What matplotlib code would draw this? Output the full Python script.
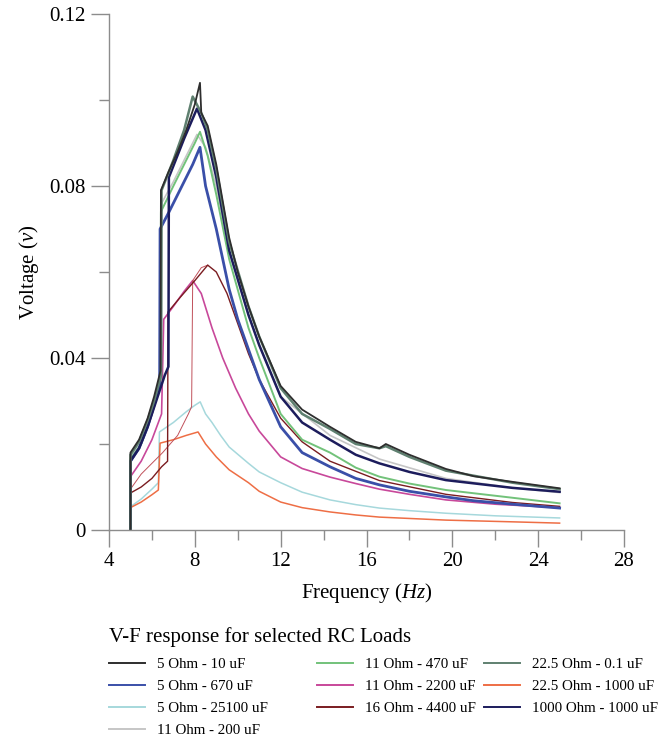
import matplotlib
matplotlib.use("Agg")
import matplotlib.pyplot as plt
from matplotlib.ticker import MultipleLocator

plt.rcParams['font.family'] = ['Liberation Serif', 'DejaVu Serif']
plt.rcParams['mathtext.fontset'] = 'custom'
plt.rcParams['mathtext.rm'] = 'Liberation Serif'
plt.rcParams['mathtext.it'] = 'Liberation Serif:italic'

# values (frequency in Hz, voltage in v)
black_f = [5.0, 5.0, 5.4, 5.8, 6.1, 6.4, 6.42, 6.75, 7.2, 7.6, 8.0, 8.24, 8.3, 8.6, 9.0, 9.6, 10.0, 10.5, 11.0, 12.0, 13.0, 14.3, 15.5, 16.6, 16.9, 18.0, 19.7, 21.0, 22.8, 25.0]
black_v = [0.0, 0.018, 0.021, 0.026, 0.031, 0.037, 0.079, 0.083, 0.088, 0.093, 0.099, 0.104, 0.097, 0.094, 0.085, 0.068, 0.060, 0.052, 0.045, 0.0335, 0.028, 0.024, 0.0205, 0.019, 0.020, 0.0175, 0.0142, 0.0125, 0.0112, 0.0097]

blue_f = [5.0, 5.0, 5.4, 5.8, 6.1, 6.36, 6.38, 6.8, 7.2, 7.6, 7.9, 8.24, 8.5, 9.0, 9.6, 10.0, 10.5, 11.0, 12.0, 13.0, 14.3, 15.5, 16.6, 18.0, 19.7, 21.0, 22.8, 25.0]
blue_v = [0.0, 0.016, 0.019, 0.024, 0.029, 0.034, 0.070, 0.074, 0.078, 0.082, 0.085, 0.089, 0.080, 0.070, 0.056, 0.049, 0.042, 0.035, 0.024, 0.018, 0.0147, 0.012, 0.0105, 0.0090, 0.0077, 0.0068, 0.0060, 0.0051]

cyan_f = [5.0, 5.0, 5.5, 6.0, 6.3, 6.35, 7.0, 7.6, 8.0, 8.25, 8.5, 8.8, 9.2, 9.6, 10.5, 11.0, 12.0, 13.0, 14.3, 15.5, 16.6, 18.0, 19.7, 22.0, 25.0]
cyan_v = [0.0, 0.0054, 0.0072, 0.0095, 0.011, 0.0228, 0.025, 0.0275, 0.029, 0.0298, 0.027, 0.025, 0.022, 0.0193, 0.0155, 0.0135, 0.011, 0.0088, 0.0070, 0.0059, 0.0051, 0.0045, 0.0039, 0.0033, 0.0028]

gray_f = [5.0, 5.0, 5.5, 6.0, 6.42, 6.45, 7.0, 7.5, 8.1, 8.5, 9.0, 9.6, 10.5, 11.0, 12.0, 14.3, 16.6, 19.7, 22.8, 25.0]
gray_v = [0.0, 0.017, 0.021, 0.028, 0.035, 0.076, 0.081, 0.086, 0.092, 0.089, 0.080, 0.065, 0.050, 0.043, 0.031, 0.022, 0.0165, 0.012, 0.0098, 0.0087]

green_f = [5.0, 5.0, 5.5, 6.0, 6.4, 6.42, 7.0, 7.5, 8.0, 8.24, 8.6, 9.0, 9.6, 10.5, 11.0, 12.0, 13.0, 14.3, 15.5, 16.6, 18.0, 19.7, 22.8, 25.0]
green_v = [0.0, 0.0165, 0.020, 0.027, 0.035, 0.074, 0.080, 0.085, 0.090, 0.0926, 0.087, 0.078, 0.063, 0.047, 0.040, 0.027, 0.021, 0.018, 0.0145, 0.0124, 0.0108, 0.0093, 0.0075, 0.0062]

mag_f = [5.0, 5.0, 5.5, 6.0, 6.45, 6.55, 7.0, 7.5, 7.9, 8.3, 8.8, 9.3, 9.9, 10.5, 11.0, 12.0, 13.0, 14.3, 15.5, 16.6, 18.0, 19.7, 22.0, 25.0]
mag_v = [0.0, 0.0124, 0.016, 0.021, 0.027, 0.049, 0.052, 0.0555, 0.058, 0.055, 0.047, 0.040, 0.033, 0.027, 0.023, 0.017, 0.0143, 0.0123, 0.0108, 0.0095, 0.0083, 0.0070, 0.0060, 0.0052]

red_f = [5.0, 5.0, 5.5, 6.0, 6.45, 6.73, 6.75, 7.3, 8.0, 8.6, 9.0, 9.5, 10.0, 10.5, 11.0, 12.0, 13.0, 14.3, 16.6, 19.7, 22.8, 25.0]
red_v = [0.0, 0.0086, 0.010, 0.012, 0.0147, 0.016, 0.0507, 0.054, 0.058, 0.0616, 0.060, 0.055, 0.048, 0.041, 0.035, 0.026, 0.0205, 0.016, 0.0115, 0.0083, 0.0064, 0.0055]
# second sweep of the 16 Ohm load (jumps later)
red2_f = [5.0, 5.0, 5.5, 6.5, 7.2, 7.7, 7.85, 7.9, 8.3, 8.6]
red2_v = [0.0, 0.0095, 0.013, 0.018, 0.022, 0.027, 0.0287, 0.058, 0.061, 0.0616]

gg_f = [5.0, 5.0, 5.4, 5.8, 6.1, 6.43, 6.45, 7.0, 7.5, 7.9, 8.3, 8.6, 9.0, 9.6, 10.5, 11.0, 12.0, 13.0, 14.3, 15.5, 16.6, 16.9, 18.0, 19.7, 22.8, 25.0]
gg_v = [0.0, 0.0175, 0.0205, 0.0255, 0.030, 0.036, 0.079, 0.086, 0.093, 0.1008, 0.097, 0.093, 0.084, 0.067, 0.052, 0.045, 0.033, 0.027, 0.0235, 0.020, 0.019, 0.0195, 0.017, 0.0138, 0.011, 0.0095]

org_f = [5.0, 5.0, 5.5, 6.0, 6.3, 6.38, 7.0, 7.6, 8.15, 8.5, 9.0, 9.6, 10.5, 11.0, 12.0, 13.0, 14.3, 15.5, 16.6, 19.7, 22.8, 25.0]
org_v = [0.0, 0.0052, 0.0065, 0.0082, 0.0093, 0.0202, 0.021, 0.022, 0.0228, 0.020, 0.017, 0.014, 0.011, 0.009, 0.0065, 0.0052, 0.0042, 0.0035, 0.0030, 0.0023, 0.0019, 0.0016]

navy_f = [5.0, 5.0, 5.4, 5.8, 6.2, 6.6, 6.77, 6.79, 7.5, 8.1, 8.5, 9.0, 9.6, 10.5, 11.0, 12.0, 13.0, 14.3, 15.5, 16.6, 18.0, 19.7, 22.8, 25.0]
navy_v = [0.0, 0.016, 0.019, 0.024, 0.030, 0.036, 0.038, 0.082, 0.091, 0.098, 0.093, 0.082, 0.065, 0.050, 0.043, 0.031, 0.025, 0.021, 0.0175, 0.0155, 0.0135, 0.0116, 0.0098, 0.0089]

labels = ["5 Ohm - 10 uF", "5 Ohm - 670 uF", "5 Ohm - 25100 uF", "11 Ohm - 200 uF",
          "11 Ohm - 470 uF", "11 Ohm - 2200 uF", "16 Ohm - 4400 uF",
          "22.5 Ohm - 0.1 uF", "22.5 Ohm - 1000 uF", "1000 Ohm - 1000 uF"]
colors = ["#2e2e2e", "#3a4fa8", "#a6d8dc", "#c6c6c6", "#72c27a", "#c8489a",
          "#7a1c20", "#5f8070", "#ee6e45", "#1c1c5c"]

fig = plt.figure(figsize=(6.69, 7.54), dpi=100)
ax = fig.add_axes([109/669, 1 - 530/754, 515/669, 516/754])

# draw order: light ones below, dark ones on top
lines = {}
lines[3] = ax.plot(gray_f, gray_v, color=colors[3], lw=1.2)[0]
lines[2] = ax.plot(cyan_f, cyan_v, color=colors[2], lw=1.1)[0]
lines[8] = ax.plot(org_f, org_v, color=colors[8], lw=1.1)[0]
lines[5] = ax.plot(mag_f, mag_v, color=colors[5], lw=1.2)[0]
ax.plot(red2_f, red2_v, color="#c0505a", lw=0.7)
lines[6] = ax.plot(red_f, red_v, color=colors[6], lw=1.0)[0]
lines[4] = ax.plot(green_f, green_v, color=colors[4], lw=1.4)[0]
lines[1] = ax.plot(blue_f, blue_v, color=colors[1], lw=2.0)[0]
lines[9] = ax.plot(navy_f, navy_v, color=colors[9], lw=1.8)[0]
lines[7] = ax.plot(gg_f, gg_v, color=colors[7], lw=1.8)[0]
lines[0] = ax.plot(black_f, black_v, color=colors[0], lw=1.3)[0]

ax.set_xlim(4, 28)
ax.set_ylim(0, 0.12)
ax.set_xticks([4, 8, 12, 16, 20, 24, 28])
ax.set_yticks([0, 0.04, 0.08, 0.12])
ax.set_yticklabels(["0", "0.04", "0.08", "0.12"])
ax.xaxis.set_minor_locator(MultipleLocator(2))
ax.yaxis.set_minor_locator(MultipleLocator(0.02))

for s in ["top", "right"]:
    ax.spines[s].set_visible(False)
for s in ["left", "bottom"]:
    ax.spines[s].set_color("#8c8c8c")
    ax.spines[s].set_linewidth(1.0)
ax.tick_params(which="major", direction="out", length=12, width=1.0, color="#8c8c8c",
               labelsize=15, pad=4)
ax.tick_params(which="minor", direction="out", length=7, width=1.0, color="#8c8c8c")
ax.tick_params(axis="y", which="major", length=13)

ax.set_xlabel("Frequency ($\\it{Hz}$)", fontsize=15, labelpad=7)
ax.set_ylabel("Voltage ($\\it{v}$)", fontsize=15, labelpad=6)

# legend: title plus three separate columns
fig.text(109/669, 1 - 637/754, "V-F response for selected RC Loads", fontsize=15,
         va="center", ha="left")
cols = [[0, 1, 2, 3], [4, 5, 6], [7, 8, 9]]
col_x = [109/669, 317/669, 484/669]
for idx, x0 in zip(cols, col_x):
    leg = fig.legend([lines[i] for i in idx], [labels[i] for i in idx],
                     loc="upper left", bbox_to_anchor=(x0, 1 - 658/754),
                     frameon=False, fontsize=10.8, handlelength=2.4,
                     handletextpad=0.8, labelspacing=0.55, borderpad=0,
                     borderaxespad=0)
    for h in leg.legend_handles:
        h.set_linewidth(1.4)

fig.savefig("out.png", dpi=100)
